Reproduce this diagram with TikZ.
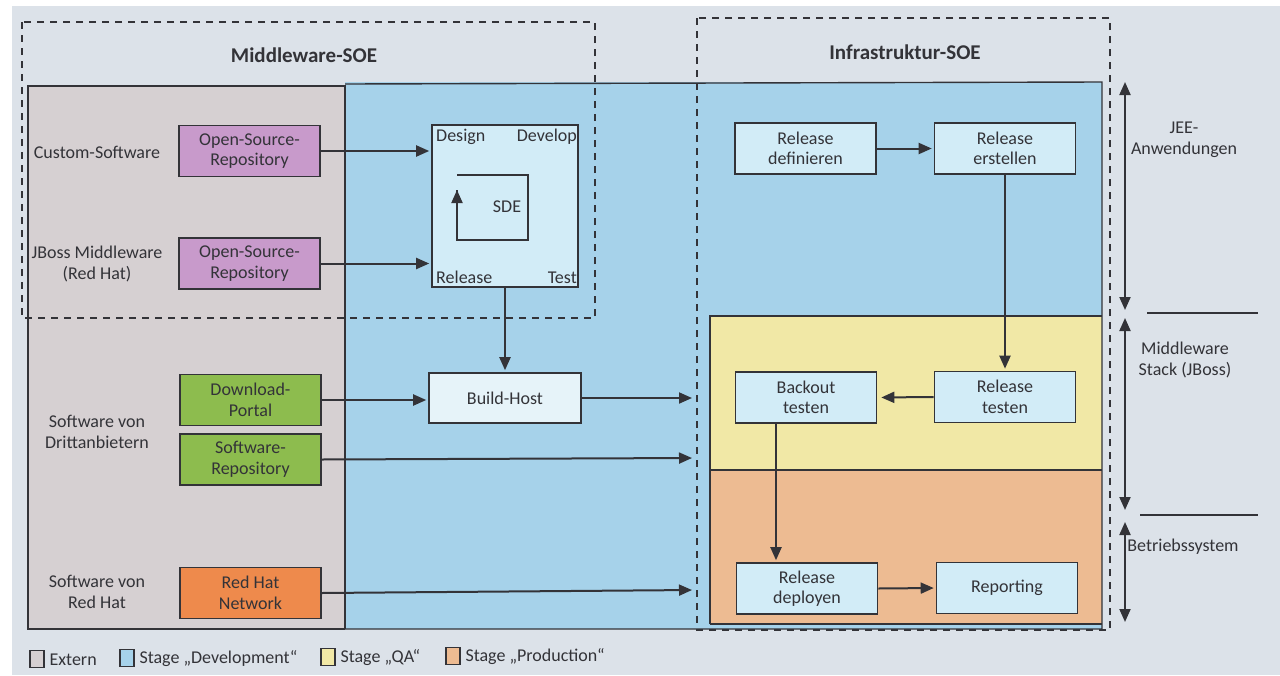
\documentclass[tikz,border=0pt]{standalone}
\usepackage{fontspec}
\setmainfont{Carlito}
\usetikzlibrary{arrows.meta}
\definecolor{bg}{HTML}{DCE2E9}
\definecolor{ext}{HTML}{D6D0D2}
\definecolor{dev}{HTML}{A6D2EA}
\definecolor{qa}{HTML}{F1E8A6}
\definecolor{prod}{HTML}{EDBB92}
\definecolor{nodefill}{HTML}{D2ECF7}
\definecolor{bhfill}{HTML}{E6F3F9}
\definecolor{purp}{HTML}{C89ACB}
\definecolor{grn}{HTML}{8DBC4E}
\definecolor{orng}{HTML}{EE8A4C}
\definecolor{linec}{HTML}{333338}
\begin{document}
\begin{tikzpicture}[x=1pt,y=-1pt,
  txt/.style={font=\fontsize{18}{20.5}\selectfont, text=linec, align=center},
  box/.style={txt, draw=linec, line width=1.6pt, minimum width=141pt, minimum height=51pt, inner sep=1pt, fill=nodefill},
  arr/.style={-{Triangle[length=13pt,width=11pt]}, line width=2pt, draw=linec, shorten >=2pt},
  darr/.style={{Triangle[length=13pt,width=11pt]}-{Triangle[length=13pt,width=11pt]}, line width=2pt, draw=linec},
  region/.style={draw=linec, line width=1.4pt},
  dashbox/.style={draw=linec, line width=1.3pt, dash pattern=on 7pt off 6pt},
  title/.style={font=\bfseries\fontsize{21}{23}\selectfont, text=linec},
  legsq/.style={draw=linec, line width=1.3pt, minimum width=14pt, minimum height=17pt, inner sep=0pt}
]
\useasboundingbox (0,0) rectangle (1280,675);
\fill[white] (0,0) rectangle (1280,675);
\fill[bg] (12,6) rectangle (1280,675);
% regions
\fill[ext] (28,86) rectangle (345,629);
\fill[dev] (345,82) rectangle (1102,629);
\fill[qa] (710,316) rectangle (1102,470);
\fill[prod] (710,470) rectangle (1102,624);
\draw[region] (345,629) -- (28,629) -- (28,86) -- (345,86) -- (345,629);
\draw[region] (345,84) -- (1102,82) -- (1102,629) -- (345,629);
\draw[region] (710,624) -- (710,316) -- (1102,316);
\draw[region] (710,470) -- (1102,470);
\draw[region] (710,624) -- (1102,624);
% dashed boxes
\draw[dashbox] (22,22) rectangle (595,318);
\draw[dashbox] (697,18) rectangle (1110,630);
\node[title] (tmw) at (304,55) {Middleware-SOE};
\node[title] (tinf) at (905,52) {Infrastruktur-SOE};
% left labels
\node[txt] (lcs) at (97,152) {Custom-Software};
\node[txt] (ljb) at (97,264) {JBoss Middleware\\(Red Hat)};
\node[txt] (ldr) at (97,432) {Software von\\Drittanbietern};
\node[txt] (lrh) at (97,592) {Software von\\Red Hat};
% extern boxes
\node[box, fill=purp] (osr1) at (249.5,151) {Open-Source-\\Repository};
\node[box, fill=purp] (osr2) at (249.5,263.5) {Open-Source-\\Repository};
\node[box, fill=grn] (dlp) at (250.5,400) {Download-\\Portal};
\node[box, fill=grn] (swr) at (250.5,459.5) {Software-\\Repository};
\node[box, fill=orng] (rhn) at (250.5,593) {Red Hat\\Network};
% SDE
\node[box, minimum width=146pt, minimum height=162pt, fill=nodefill] (sde) at (505,206) {};
\node[txt, anchor=north west, inner sep=2pt] (dsg) at (434,127) {Design};
\node[txt, anchor=north east, inner sep=2pt] (dev) at (579,127) {Develop};
\node[txt, anchor=south west, inner sep=2pt] (rel) at (434,286) {Release};
\node[txt, anchor=south east, inner sep=2pt] (tst) at (579,286) {Test};
\node[txt] (sdel) at (507,207) {SDE};
\coordinate (c1) at (457,175);
\coordinate (c2) at (528,175);
\coordinate (c3) at (528,240);
\coordinate (c4) at (457,240);
\coordinate (c5) at (457,190);
\draw[line width=2pt, draw=linec] (c1) -- (c2) -- (c3) -- (c4) -- (c5);
\draw[arr, shorten >=0pt] (c4) -- (c5);
\node[box, minimum width=152pt, minimum height=50pt, fill=bhfill] (bh) at (505,398) {Build-Host};
% infrastructure boxes
\node[box] (rdef) at (805.5,148.5) {Release\\definieren};
\node[box] (rers) at (1005,148.5) {Release\\erstellen};
\node[box] (rtst) at (1005,397) {Release\\testen};
\node[box] (btst) at (806,397.5) {Backout\\testen};
\node[box] (rdep) at (807,588.5) {Release\\deployen};
\node[box] (rep) at (1007,588) {Reporting};
% connectors
\draw[arr] (osr1.east) -- (osr1.east -| sde.west);
\draw[arr] (osr2.east) -- (osr2.east -| sde.west);
\draw[arr] (sde.south) -- (bh.north);
\draw[arr] (dlp.east) -- (dlp.east -| bh.west);
\coordinate (e1) at (694,398);
\coordinate (e2) at (694,458);
\coordinate (e3) at (694,590);
\draw[arr] (bh.east) -- (e1);
\draw[arr] (swr.east) -- (e2);
\draw[arr] (rhn.east) -- (e3);
\draw[arr] (rdef.east) -- (rers.west);
\draw[arr] (rers.south) -- (rtst.north);
\draw[arr, shorten >=4pt] (rtst.west) -- (btst.east);
\coordinate (bx) at (776,0);
\draw[arr] (btst.south -| bx) -- (rdep.north -| bx);
\draw[arr] (rdep.east) -- (rep.west);
% right scale
\coordinate (a1) at (1125,82);
\coordinate (a2) at (1125,310);
\coordinate (a3) at (1125,318);
\coordinate (a4) at (1125,510);
\coordinate (a5) at (1125,522);
\coordinate (a6) at (1125,622);
\draw[darr] (a1) -- (a2);
\draw[darr] (a3) -- (a4);
\draw[darr] (a5) -- (a6);
\coordinate (s1) at (1147,313);
\coordinate (s2) at (1258,313);
\coordinate (s3) at (1140,515);
\coordinate (s4) at (1258,515);
\draw[line width=1.6pt, draw=linec] (s1) -- (s2);
\draw[line width=1.6pt, draw=linec] (s3) -- (s4);
\node[txt] (rjee) at (1184,140) {JEE-\\Anwendungen};
\node[txt] (rmw) at (1185,360) {Middleware\\Stack (JBoss)};
\node[txt] (ros) at (1183,547) {Betriebssystem};
% legend
\node[legsq, fill=ext] (q1) at (37,659) {};
\node[txt, anchor=west] (t1) at (46,660) {Extern};
\node[legsq, fill=dev] (q2) at (127,658) {};
\node[txt, anchor=west] (t2) at (136,659) {Stage „Development“};
\node[legsq, fill=qa] (q3) at (328,657) {};
\node[txt, anchor=west] (t3) at (337,658) {Stage „QA“};
\node[legsq, fill=prod] (q4) at (453,656) {};
\node[txt, anchor=west] (t4) at (462,657) {Stage „Production“};
\end{tikzpicture}
\end{document}
